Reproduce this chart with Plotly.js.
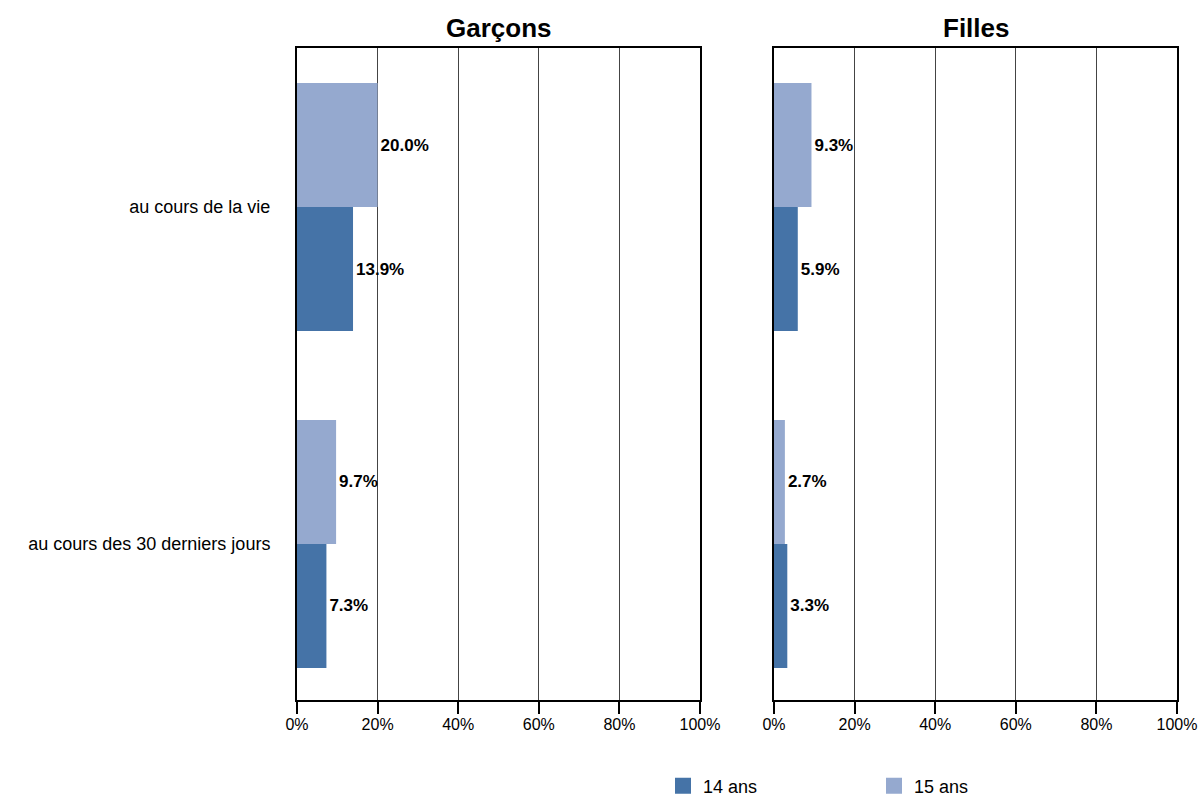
<!DOCTYPE html>
<html>
<head>
<meta charset="utf-8">
<script src="https://cdn.plot.ly/plotly-3.0.1.min.js"></script>
<style>html,body{margin:0;padding:0;background:#fff;}#chart{width:1198px;height:797px;}</style>
</head>
<body>
<div id="chart"></div>
<script>
// Categories (bottom to top on screen)
const categories = ['au cours des 30 derniers jours', 'au cours de la vie'];
const seriesNames = ['14 ans', '15 ans'];
const panelTitles = ['Garçons', 'Filles'];
// Values in percent, same order as categories
const garcons14 = [7.3, 13.9];
const garcons15 = [9.7, 20.0];
const filles14 = [3.3, 5.9];
const filles15 = [2.7, 9.3];

const colors = ['#4573A7', '#95A9CF'];
const FONT = 'Liberation Sans, Arial, sans-serif';

function barTrace(vals, idx, xa) {
  return {
    type: 'bar', orientation: 'h',
    y: categories, x: vals,
    name: seriesNames[idx],
    marker: {color: colors[idx], line: {width: 0}},
    xaxis: xa, yaxis: xa === 'x' ? 'y' : 'y2',
    text: vals.map(v => v.toFixed(1) + '%'),
    textposition: 'outside',
    textfont: {family: FONT, size: 17, color: '#000', weight: 'bold'},
    cliponaxis: false,
    showlegend: false,
    hoverinfo: 'skip'
  };
}
function legendTrace(idx) {
  return {
    type: 'scatter', mode: 'markers', x: [null], y: [null],
    xaxis: 'x', yaxis: 'y',
    name: seriesNames[idx],
    marker: {symbol: 'square', size: 17, color: colors[idx], line: {width: 0}},
    showlegend: true, hoverinfo: 'skip'
  };
}

const data = [
  barTrace(garcons14, 0, 'x'),
  barTrace(garcons15, 1, 'x'),
  barTrace(filles14, 0, 'x2'),
  barTrace(filles15, 1, 'x2'),
  legendTrace(0),
  legendTrace(1)
];

const xCommon = {
  range: [0, 100], dtick: 20, tick0: 0, ticksuffix: '%',
  showgrid: true, gridcolor: '#444', gridwidth: 1,
  showline: true, linecolor: '#000', linewidth: 2, mirror: true,
  ticks: 'outside', ticklen: 12, tickwidth: 2, tickcolor: '#000',
  ticklabelstandoff: -3,
  tickfont: {family: FONT, size: 16, color: '#000'},
  zeroline: false, fixedrange: true
};
const yRange = [-0.463, 1.472];
const yCommon = {
  type: 'category', categoryorder: 'array', categoryarray: categories,
  range: yRange, showgrid: false, zeroline: false,
  showline: true, linecolor: '#000', linewidth: 2, mirror: true,
  ticks: '', fixedrange: true
};

const layout = {
  width: 1198, height: 797,
  margin: {l: 0, r: 0, t: 48, b: 97, autoexpand: false},
  paper_bgcolor: '#fff', plot_bgcolor: '#fff',
  barmode: 'group', bargap: 0.264, bargroupgap: 0,
  font: {family: FONT, color: '#000'},
  xaxis: Object.assign({}, xCommon, {domain: [297/1198, 700/1198], anchor: 'y'}),
  xaxis2: Object.assign({}, xCommon, {domain: [774/1198, 1177/1198], anchor: 'y2'}),
  yaxis: Object.assign({}, yCommon, {anchor: 'x', showticklabels: true, ticklabelstandoff: 21,
    tickfont: {family: FONT, size: 18, color: '#000'}}),
  yaxis2: Object.assign({}, yCommon, {anchor: 'x2', showticklabels: false}),
  showlegend: true,
  legend: {
    orientation: 'h', x: 663/1198, xanchor: 'left',
    yref: 'container', y: 11/797, yanchor: 'middle',
    entrywidth: 166, entrywidthmode: 'pixels', itemsizing: 'trace',
    font: {family: FONT, size: 18, color: '#000'},
    itemclick: false, itemdoubleclick: false
  },
  annotations: [
    {text: panelTitles[0], xref: 'x domain', yref: 'paper', x: 0.5, y: 1, yshift: 20, yanchor: 'middle',
     showarrow: false, font: {family: FONT, size: 26, color: '#000', weight: 'bold'}},
    {text: panelTitles[1], xref: 'x2 domain', yref: 'paper', x: 0.5, y: 1, yshift: 20, yanchor: 'middle',
     showarrow: false, font: {family: FONT, size: 26, color: '#000', weight: 'bold'}}
  ]
};

Plotly.newPlot('chart', data, layout, {displayModeBar: false, staticPlot: true});
</script>
</body>
</html>
